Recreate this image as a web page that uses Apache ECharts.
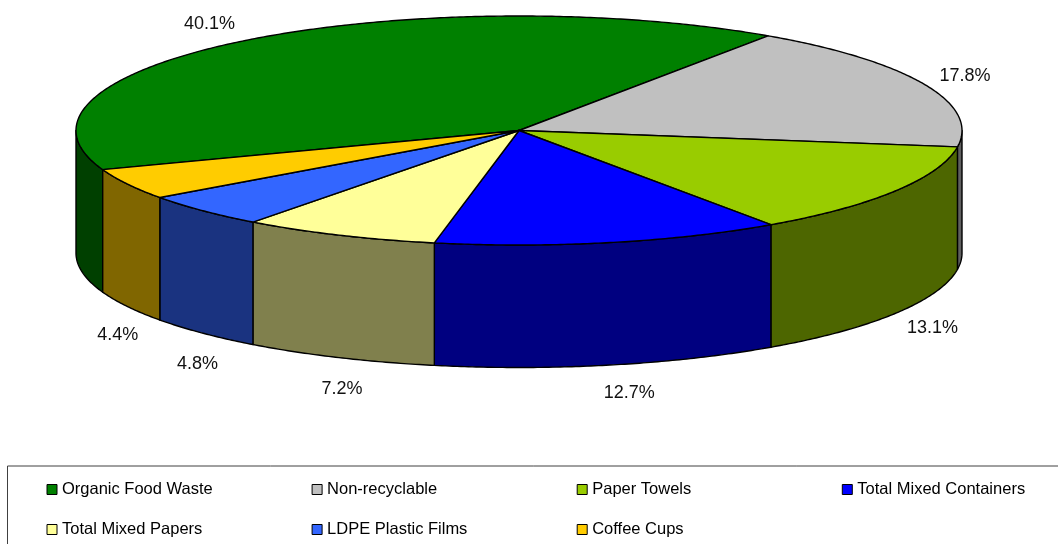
<!DOCTYPE html>
<html>
<head>
<meta charset="utf-8">
<script src="https://cdn.jsdelivr.net/npm/echarts@6/dist/echarts.min.js"></script>
<style>
  html, body { margin: 0; padding: 0; background: #ffffff; }
  #chart { width: 1058px; height: 544px; }
</style>
</head>
<body>
<div id="chart"></div>
<script>
// Waste composition shares (%)
const categories = [
  'Organic Food Waste',
  'Non-recyclable',
  'Paper Towels',
  'Total Mixed Containers',
  'Total Mixed Papers',
  'LDPE Plastic Films',
  'Coffee Cups'
];
const shares = [40.1, 17.8, 13.1, 12.7, 7.2, 4.8, 4.4];
const sliceColors = ['#008000', '#C0C0C0', '#99CC00', '#0000FF', '#FFFF99', '#3366FF', '#FFCC00'];

// Tilted pie geometry in pixels: top-face ellipse, wall height, first-slice angle
const PIE = { cx: 519, cy: 130.5, rx: 443, ry: 114.5, depth: 122.5, startDeg: 160 };
const FONT = "'Liberation Sans', Arial, sans-serif";

const total = shares.reduce((s, v) => s + v, 0);
const cumulative = [];
shares.reduce((acc, v) => { cumulative.push(acc); return acc + v; }, 0);

function angleAt(v) { return PIE.startDeg + v / total * 360; }
function ellipsePoint(deg, dy) {
  const r = deg * Math.PI / 180;
  return [PIE.cx + PIE.rx * Math.cos(r), PIE.cy + PIE.ry * Math.sin(r) + dy];
}
function arcPoints(a, b, dy) {
  const n = Math.max(2, Math.ceil(Math.abs(b - a) / 0.5));
  const pts = [];
  for (let i = 0; i <= n; i++) pts.push(ellipsePoint(a + (b - a) * i / n, dy));
  return pts;
}
// Wall shade: the face colour at half brightness
function shade(color) {
  const rgba = echarts.color.parse(color);
  return 'rgb(' + Math.round(rgba[0] / 2) + ',' + Math.round(rgba[1] / 2) + ',' + Math.round(rgba[2] / 2) + ')';
}

function makeRenderer(index) {
  return function (params, api) {
    const value = api.value(0);
    const topColor = api.visual('color');
    const wallColor = shade(topColor);
    const a = angleAt(cumulative[index]);
    const b = angleAt(cumulative[index] + value);
    const children = [];

    // Outer wall: only the front half of the rim (0..180 deg, screen y down) is visible
    for (let k = 0; k < 3; k++) {
      const s = Math.max(a, k * 360);
      const e = Math.min(b, k * 360 + 180);
      if (e > s) {
        const pts = arcPoints(s, e, 0).concat(arcPoints(e, s, PIE.depth));
        children.push({
          type: 'polygon',
          shape: { points: pts },
          style: { fill: wallColor, stroke: '#000', lineWidth: 1.4, lineJoin: 'round' }
        });
      }
    }

    // Top face of the slice
    children.push({
      type: 'polygon',
      shape: { points: [[PIE.cx, PIE.cy]].concat(arcPoints(a, b, 0)) },
      style: { fill: topColor, stroke: '#000', lineWidth: 1.4, lineJoin: 'round' }
    });

    // Percentage label outside the rim at the slice's middle angle;
    // front labels hang below the wall, back labels sit above the top face
    const mid = (a + b) / 2;
    const rad = mid * Math.PI / 180;
    const c = Math.cos(rad), s = Math.sin(rad);
    const front = s > 0;
    const rim = ellipsePoint(mid, front ? PIE.depth : 0);
    const lx = front ? rim[0] + 27 * c + 14 : rim[0] + 51 * c - 6;
    const ly = front ? rim[1] + 17 * s + 13 - 8 * c : rim[1] + 21 * s;
    children.push({
      type: 'text',
      x: lx,
      y: ly,
      style: {
        text: value.toFixed(1) + '%',
        fill: '#111',
        font: '18px ' + FONT,
        align: 'center',
        verticalAlign: 'middle'
      }
    });

    return { type: 'group', children: children };
  };
}

const series = categories.map((name, i) => ({
  type: 'custom',
  name: name,
  coordinateSystem: 'none',
  itemStyle: { color: sliceColors[i] },
  renderItem: makeRenderer(i),
  data: [[shares[i]]],
  silent: true
}));

const chart = echarts.init(document.getElementById('chart'), null, { renderer: 'canvas' });
chart.setOption({
  animation: false,
  backgroundColor: '#ffffff',
  legend: {
    data: categories,
    orient: 'horizontal',
    left: 7.5,
    top: 466,
    width: 1045,
    padding: [13.5, 30, 30, 39],
    itemWidth: 10,
    itemHeight: 10,
    itemGap: 20,
    icon: 'rect',
    selectedMode: false,
    borderColor: '#404040',
    borderWidth: 1,
    itemStyle: { borderColor: '#000', borderWidth: 1 },
    formatter: '{n|{name}}',
    textStyle: {
      fontFamily: FONT,
      fontSize: 16.5,
      color: '#000',
      rich: {
        n: {
          fontFamily: FONT,
          fontSize: 16.5,
          color: '#000',
          width: 229.6,
          height: 20,
          lineHeight: 20
        }
      }
    }
  },
  series: series
});
</script>
</body>
</html>
